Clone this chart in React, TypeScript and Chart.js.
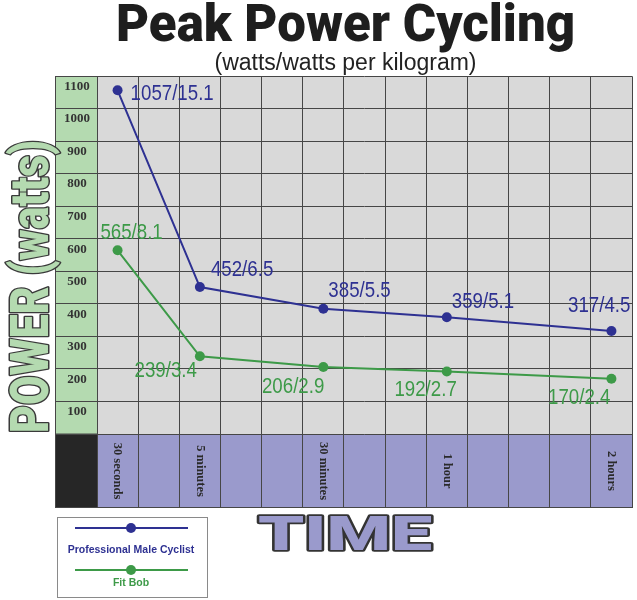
import React, { useEffect, useRef } from 'react';
import { Chart, registerables } from 'chart.js';

Chart.register(...registerables);

// ---------- data ----------
const timeColumns = ['30 seconds', '', '5 minutes', '', '', '30 minutes', '', '', '1 hour', '', '', '', '2 hours'];
const durations = ['30 seconds', '5 minutes', '30 minutes', '1 hour', '2 hours'];
const proWatts = [1057, 452, 385, 359, 317];
const proWattsPerKg = [15.1, 6.5, 5.5, 5.1, 4.5];
const bobWatts = [565, 239, 206, 192, 170];
const bobWattsPerKg = [8.1, 3.4, 2.9, 2.7, 2.4];
const powerTickLabels = ['100', '200', '300', '400', '500', '600', '700', '800', '900', '1000', '1100'];
const seriesNames = ['Professional Male Cyclist', 'Fit Bob'];

// ---------- label placement (relative to each point) ----------
type Placement = { align: CanvasTextAlign; dx: number; dy: number };
const proLabelPlacement: Placement[] = [
  { align: 'left', dx: 13, dy: 4 },
  { align: 'left', dx: 11, dy: -17 },
  { align: 'left', dx: 5, dy: -18 },
  { align: 'left', dx: 5, dy: -15 },
  { align: 'right', dx: 19, dy: -25 },
];
const bobLabelPlacement: Placement[] = [
  { align: 'center', dx: 14, dy: -17 },
  { align: 'right', dx: -3, dy: 15 },
  { align: 'right', dx: 1, dy: 20 },
  { align: 'right', dx: 10, dy: 18 },
  { align: 'right', dx: -1, dy: 19 },
];

const PRO = '#2e3192';
const BOB = '#3d9a48';
const GRID = '#464646';
const PLOT_BG = '#d9d9d9';
const GREEN_COL = '#b4dab0';
const PURPLE = '#9a9acc';
const DARK_CELL = '#262626';

const labelSets = [
  { watts: proWatts, wkg: proWattsPerKg, placement: proLabelPlacement },
  { watts: bobWatts, wkg: bobWattsPerKg, placement: bobLabelPlacement },
];

const backgroundPlugin = {
  id: 'tableBackground',
  beforeDraw(chart: any) {
    const { ctx, chartArea: ca, scales } = chart;
    const x = scales.x;
    const y = scales.y;
    ctx.save();
    ctx.fillStyle = PLOT_BG;
    ctx.fillRect(ca.left, ca.top, ca.right - ca.left, ca.bottom - ca.top);
    ctx.fillStyle = GREEN_COL;
    ctx.fillRect(y.left, ca.top, ca.left - y.left, ca.bottom - ca.top);
    ctx.fillStyle = PURPLE;
    ctx.fillRect(ca.left, ca.bottom, ca.right - ca.left, x.bottom - ca.bottom);
    ctx.fillStyle = DARK_CELL;
    ctx.fillRect(y.left, ca.bottom, ca.left - y.left, x.bottom - ca.bottom);
    ctx.restore();
  },
};

const dataLabelPlugin = {
  id: 'pointValueLabels',
  afterDatasetsDraw(chart: any) {
    const { ctx } = chart;
    chart.data.datasets.forEach((ds: any, di: number) => {
      const meta = chart.getDatasetMeta(di);
      const set = labelSets[di];
      meta.data.forEach((pt: any, i: number) => {
        const p = set.placement[i];
        const text = `${set.watts[i]}/${set.wkg[i].toFixed(1)}`;
        ctx.save();
        ctx.translate(pt.x + p.dx, pt.y + p.dy);
        ctx.scale(0.85, 1);
        ctx.font = '22px "Liberation Sans", Arial, sans-serif';
        ctx.textAlign = p.align;
        ctx.textBaseline = 'middle';
        ctx.fillStyle = ds.borderColor;
        ctx.fillText(text, 0, 0);
        ctx.restore();
      });
    });
  },
};

function outlined(ctx: CanvasRenderingContext2D, text: string, targetWidth: number, align: CanvasTextAlign, fill: string, stroke: string, lw: number) {
  const w = ctx.measureText(text).width;
  ctx.scale(targetWidth / w, 1);
  ctx.textAlign = align;
  ctx.textBaseline = 'alphabetic';
  ctx.lineJoin = 'round';
  ctx.lineWidth = lw;
  ctx.strokeStyle = stroke;
  ctx.strokeText(text, 0, 0);
  ctx.fillStyle = fill;
  ctx.fillText(text, 0, 0);
}

const decorPlugin = {
  id: 'decor',
  afterDraw(chart: any) {
    const { ctx, chartArea: ca, scales } = chart;
    const x = scales.x;
    const y = scales.y;

    // outer border of the table
    ctx.save();
    ctx.strokeStyle = GRID;
    ctx.lineWidth = 1;
    ctx.beginPath();
    ctx.moveTo(y.left + 0.5, ca.top);
    ctx.lineTo(y.left + 0.5, x.bottom);
    ctx.moveTo(y.left, x.bottom - 0.5);
    ctx.lineTo(ca.right + 0.5, x.bottom - 0.5);
    ctx.moveTo(y.left, ca.bottom);
    ctx.lineTo(ca.left, ca.bottom);
    ctx.stroke();
    ctx.restore();

    // rotated time labels in the purple band
    const midY = (ca.bottom + x.bottom) / 2;
    timeColumns.forEach((lab, i) => {
      if (!lab) return;
      const px = x.getPixelForValue(i);
      ctx.save();
      ctx.translate(px, midY);
      ctx.rotate(Math.PI / 2);
      ctx.font = 'bold 12.5px "Liberation Serif", "Times New Roman", serif';
      ctx.fillStyle = '#2a2a2a';
      ctx.textAlign = 'center';
      ctx.textBaseline = 'middle';
      ctx.fillText(lab, 0, 0);
      ctx.restore();
    });

    // y axis title
    ctx.save();
    ctx.translate(48, ca.bottom - 1);
    ctx.rotate(-Math.PI / 2);
    ctx.font = '900 53px Roboto, "DejaVu Sans", sans-serif';
    outlined(ctx, 'POWER (watts)', 293, 'left', GREEN_COL, '#3a3a3a', 3);
    ctx.restore();

    // x axis title
    ctx.save();
    ctx.translate(345, 550);
    ctx.font = '900 49px Roboto, "DejaVu Sans", sans-serif';
    outlined(ctx, 'TIME', 174, 'center', PURPLE, '#333333', 3.5);
    ctx.restore();

    // legend
    ctx.save();
    ctx.fillStyle = '#ffffff';
    ctx.fillRect(57.5, 517.5, 150, 80);
    ctx.strokeStyle = '#8a8a8a';
    ctx.lineWidth = 1;
    ctx.strokeRect(57.5, 517.5, 150, 80);
    const lineYs = [528, 570];
    const textYs = [550, 583];
    chart.data.datasets.forEach((ds: any, i: number) => {
      ctx.strokeStyle = ds.borderColor;
      ctx.lineWidth = 2;
      ctx.beginPath();
      ctx.moveTo(75, lineYs[i]);
      ctx.lineTo(188, lineYs[i]);
      ctx.stroke();
      ctx.fillStyle = ds.borderColor;
      ctx.beginPath();
      ctx.arc(131, lineYs[i], 5, 0, Math.PI * 2);
      ctx.fill();
      ctx.font = 'bold 10.5px "Liberation Sans", Arial, sans-serif';
      ctx.textAlign = 'center';
      ctx.textBaseline = 'middle';
      ctx.fillText(ds.label, 131, textYs[i]);
    });
    ctx.restore();
  },
};

export default function App() {
  const ref = useRef<HTMLCanvasElement>(null);
  useEffect(() => {
    document.body.style.margin = '0';
    const canvas = ref.current;
    if (!canvas) return;
    const chart = new Chart(canvas, {
      type: 'line',
      data: {
        labels: timeColumns,
        datasets: [
          {
            label: seriesNames[0],
            data: durations.map((d, i) => ({ x: d, y: proWatts[i] })) as any,
            borderColor: PRO,
            backgroundColor: PRO,
            pointBackgroundColor: PRO,
            borderWidth: 2,
            pointRadius: 5,
            pointBorderWidth: 0,
            tension: 0,
          },
          {
            label: seriesNames[1],
            data: durations.map((d, i) => ({ x: d, y: bobWatts[i] })) as any,
            borderColor: BOB,
            backgroundColor: BOB,
            pointBackgroundColor: BOB,
            borderWidth: 2,
            pointRadius: 5,
            pointBorderWidth: 0,
            tension: 0,
          },
        ],
      },
      options: {
        responsive: true,
        maintainAspectRatio: false,
        animation: false,
        layout: { padding: { left: 55, right: 1, top: 0, bottom: 92 } },
        plugins: {
          legend: { display: false },
          tooltip: { enabled: false },
          title: {
            display: true,
            text: 'Peak Power Cycling',
            color: '#1e1e1e',
            font: { family: 'Roboto, "DejaVu Sans", sans-serif', size: 51, weight: '900' as any, lineHeight: 45 / 51 },
            padding: { top: 6, bottom: 0 },
          },
          subtitle: {
            display: true,
            text: '(watts/watts per kilogram)',
            color: '#222222',
            font: { family: '"Liberation Sans", Arial, sans-serif', size: 23, weight: 'normal' as any, lineHeight: 1.1 },
            padding: { top: 0, bottom: 0 },
          },
        },
        scales: {
          x: {
            type: 'category',
            offset: true,
            afterFit: (s: any) => { s.height = 74; },
            grid: { offset: true, color: GRID, lineWidth: 1, tickLength: 74, drawTicks: true },
            border: { display: false },
            ticks: { display: false, autoSkip: false },
          },
          y: {
            min: 0,
            max: 1100,
            afterBuildTicks: (s: any) => {
              s.ticks = powerTickLabels.map((l) => ({ value: Number(l) - 50 }));
            },
            afterFit: (s: any) => { s.width = 42; },
            grid: { offset: true, color: GRID, lineWidth: 1, tickLength: 42, drawTicks: true },
            border: { display: false },
            ticks: {
              callback: (_v: any, i: number) => powerTickLabels[i],
              font: { family: '"Liberation Serif", "Times New Roman", serif', size: 13, weight: 'bold' as any },
              color: '#333333',
              crossAlign: 'center',
              padding: -35,
              labelOffset: -6,
            },
          },
        },
      },
      plugins: [backgroundPlugin, dataLabelPlugin, decorPlugin],
    });
    return () => chart.destroy();
  }, []);
  return (
    <div style={{ width: 637, height: 600, position: 'relative' }}>
      <canvas ref={ref} />
    </div>
  );
}
